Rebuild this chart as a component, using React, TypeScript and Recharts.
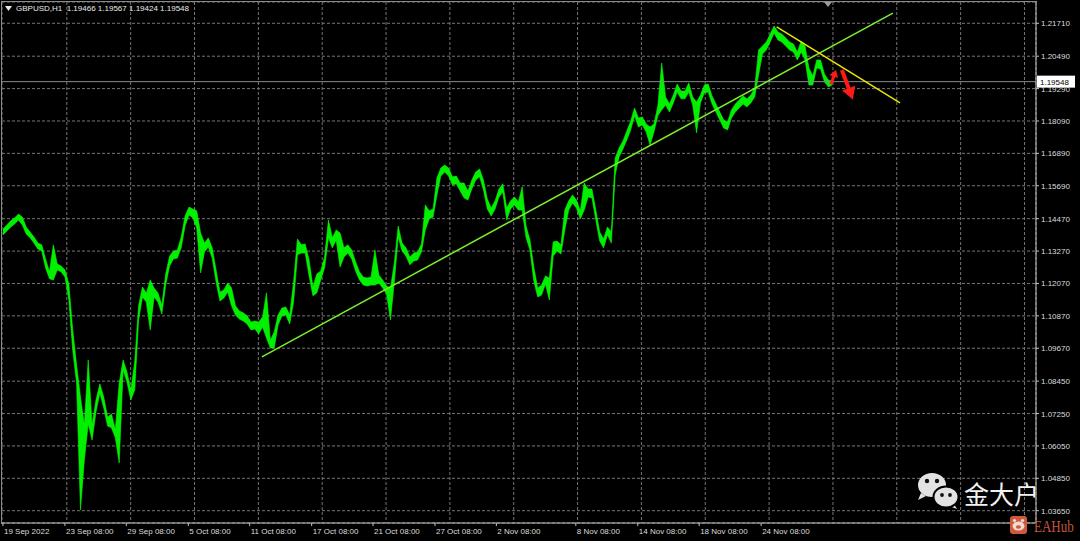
import React from 'react';
import { ComposedChart, Area, XAxis, YAxis, CartesianGrid, ReferenceLine } from 'recharts';

// ---- data (GBPUSD H1, sampled every 6 hourly bars: high / low of each block) ----
const STEP_HOURS = 6;

const HIGHS = [
  1.1409, 1.1424, 1.1439, 1.1450, 1.1464, 1.1453, 1.1416, 1.1398, 1.1379, 1.1357,
  1.1350, 1.1298, 1.1250, 1.1350, 1.1279, 1.1272, 1.1257, 1.1205, 1.1035, 1.0905,
  1.0786, 1.0683, 1.0923, 1.0683, 1.0775, 1.0835, 1.0786, 1.0712, 1.0723, 1.0664,
  1.0838, 1.0923, 1.0879, 1.0812, 1.0916, 1.1124, 1.1194, 1.1172, 1.1220, 1.1190,
  1.1172, 1.1127, 1.1242, 1.1309, 1.1327, 1.1331, 1.1379, 1.1457, 1.1490, 1.1483,
  1.1476, 1.1394, 1.1357, 1.1376, 1.1339, 1.1257, 1.1175, 1.1183, 1.1209, 1.1190,
  1.1124, 1.1105, 1.1098, 1.1087, 1.1064, 1.1068, 1.1064, 1.1083, 1.1172, 1.0997,
  1.1027, 1.1090, 1.1116, 1.1120, 1.1090, 1.1212, 1.1372, 1.1350, 1.1353, 1.1294,
  1.1194, 1.1242, 1.1253, 1.1305, 1.1442, 1.1376, 1.1405, 1.1394, 1.1339, 1.1350,
  1.1331, 1.1287, 1.1250, 1.1231, 1.1227, 1.1231, 1.1331, 1.1238, 1.1220, 1.1198,
  1.1190, 1.1283, 1.1420, 1.1357, 1.1339, 1.1305, 1.1320, 1.1324, 1.1353, 1.1498,
  1.1476, 1.1483, 1.1598, 1.1635, 1.1646, 1.1635, 1.1602, 1.1605, 1.1579, 1.1579,
  1.1550, 1.1590, 1.1620, 1.1631, 1.1590, 1.1520, 1.1487, 1.1513, 1.1557, 1.1576,
  1.1487, 1.1513, 1.1527, 1.1509, 1.1565, 1.1420, 1.1368, 1.1268, 1.1190, 1.1201,
  1.1235, 1.1227, 1.1361, 1.1364, 1.1350, 1.1479, 1.1513, 1.1535, 1.1516, 1.1476,
  1.1579, 1.1557, 1.1557, 1.1479, 1.1398, 1.1372, 1.1416, 1.1398, 1.1672, 1.1709,
  1.1735, 1.1772, 1.1809, 1.1857, 1.1820, 1.1824, 1.1798, 1.1787, 1.1798, 1.1865,
  1.2024, 1.1898, 1.1872, 1.1905, 1.1946, 1.1920, 1.1920, 1.1950, 1.1898, 1.1879,
  1.1905, 1.1942, 1.1946, 1.1902, 1.1872, 1.1842, 1.1813, 1.1805, 1.1850, 1.1872,
  1.1887, 1.1902, 1.1891, 1.1905, 1.1931, 1.2072, 1.2087, 1.2102, 1.2131, 1.2161,
  1.2139, 1.2131, 1.2117, 1.2102, 1.2094, 1.2065, 1.2105, 1.2087, 1.2005, 1.1976,
  1.2035, 1.2035, 1.1983, 1.1961, 1.1957,
];

const LOWS = [
  1.1387, 1.1401, 1.1416, 1.1427, 1.1442, 1.1424, 1.1390, 1.1376, 1.1357, 1.1335,
  1.1327, 1.1264, 1.1224, 1.1220, 1.1257, 1.1250, 1.1231, 1.1146, 1.0960, 1.0838,
  1.0368, 1.0553, 1.0686, 1.0627, 1.0731, 1.0801, 1.0746, 1.0679, 1.0672, 1.0635,
  1.0542, 1.0886, 1.0842, 1.0775, 1.0812, 1.1072, 1.1157, 1.1138, 1.1035, 1.1157,
  1.1138, 1.1094, 1.1201, 1.1272, 1.1298, 1.1301, 1.1339, 1.1420, 1.1461, 1.1450,
  1.1413, 1.1246, 1.1324, 1.1342, 1.1301, 1.1212, 1.1142, 1.1153, 1.1175, 1.1124,
  1.1090, 1.1075, 1.1068, 1.1057, 1.1035, 1.1038, 1.1020, 1.1046, 1.1005, 1.0968,
  1.0968, 1.1053, 1.1087, 1.1090, 1.1057, 1.1138, 1.1313, 1.1320, 1.1320, 1.1235,
  1.1161, 1.1172, 1.1220, 1.1264, 1.1376, 1.1339, 1.1368, 1.1268, 1.1305, 1.1320,
  1.1298, 1.1253, 1.1220, 1.1201, 1.1198, 1.1201, 1.1201, 1.1209, 1.1190, 1.1168,
  1.1072, 1.1212, 1.1379, 1.1327, 1.1309, 1.1276, 1.1290, 1.1294, 1.1324, 1.1405,
  1.1446, 1.1453, 1.1535, 1.1605, 1.1620, 1.1605, 1.1572, 1.1576, 1.1550, 1.1524,
  1.1516, 1.1557, 1.1590, 1.1602, 1.1553, 1.1483, 1.1457, 1.1483, 1.1527, 1.1546,
  1.1442, 1.1483, 1.1498, 1.1479, 1.1479, 1.1376, 1.1331, 1.1216, 1.1157, 1.1164,
  1.1205, 1.1146, 1.1309, 1.1327, 1.1316, 1.1405, 1.1479, 1.1505, 1.1487, 1.1446,
  1.1479, 1.1527, 1.1524, 1.1442, 1.1364, 1.1339, 1.1387, 1.1357, 1.1609, 1.1676,
  1.1705, 1.1739, 1.1776, 1.1828, 1.1787, 1.1794, 1.1768, 1.1720, 1.1768, 1.1828,
  1.1850, 1.1868, 1.1842, 1.1876, 1.1916, 1.1891, 1.1891, 1.1916, 1.1868, 1.1765,
  1.1876, 1.1913, 1.1916, 1.1872, 1.1842, 1.1813, 1.1783, 1.1776, 1.1820, 1.1842,
  1.1857, 1.1872, 1.1861, 1.1876, 1.1898, 1.1979, 1.2057, 1.2072, 1.2102, 1.2135,
  1.2109, 1.2102, 1.2087, 1.2072, 1.2065, 1.2035, 1.2065, 1.2035, 1.1942, 1.1942,
  1.2005, 1.2002, 1.1954, 1.1935, 1.1942,
];

const LAST_BAR = { open: 1.19466, high: 1.19567, low: 1.19424, close: 1.19548 };
const SYMBOL = 'GBPUSD,H1';

const PRICE_TICKS = [
  1.2171, 1.2049, 1.1929, 1.1809, 1.1689, 1.1569, 1.1447, 1.1327,
  1.1207, 1.1087, 1.0967, 1.0845, 1.0725, 1.0605, 1.0485, 1.0365,
];

// time axis positions are counted in hourly bars from the first bar
const TIME_TICKS = [0, 96, 191, 287, 382, 478, 573, 669, 764, 887, 983, 1078, 1174];
const TIME_LABELS = [
  '19 Sep 2022', '23 Sep 08:00', '29 Sep 08:00', '5 Oct 08:00', '11 Oct 08:00',
  '17 Oct 08:00', '21 Oct 08:00', '27 Oct 08:00', '2 Nov 08:00', '8 Nov 08:00',
  '14 Nov 08:00', '18 Nov 08:00', '24 Nov 08:00',
];

const GRID_STEP_BARS = 49.43;
const GRID_COUNT = 33;

const TREND_UP = [{ x: 401, y: 1.0935 }, { x: 1378, y: 1.2209 }];
const TREND_DOWN = [{ x: 1198, y: 1.2158 }, { x: 1389, y: 1.1876 }];
const ARROW_UP = [{ x: 1282, y: 1.1944 }, { x: 1290, y: 1.1998 }];
const ARROW_DOWN = [{ x: 1299, y: 1.1998 }, { x: 1316, y: 1.1889 }];

const X_DOMAIN: [number, number] = [-1.5, 1599.6];
const Y_DOMAIN: [number, number] = [1.03194, 1.22499];

// ---- styling ----
const W = 1080;
const H = 541;
const AXIS_FONT = '"Liberation Sans", Arial, sans-serif';
const TEXT_COLOR = '#dcdcdc';
const AXIS_COLOR = '#c4c4c4';

const PriceTick = (props: any) => {
  const { x, y, payload } = props;
  return (
    <text x={x} y={y} dy={3} fontSize={8} fill={TEXT_COLOR} fontFamily={AXIS_FONT} textAnchor="start">
      {Number(payload.value).toFixed(5)}
    </text>
  );
};

const TimeTick = (props: any) => {
  const { x, y, index } = props;
  return (
    <text x={x + 1} y={y} dy={6} fontSize={8} fill={TEXT_COLOR} fontFamily={AXIS_FONT} textAnchor="start">
      {TIME_LABELS[index]}
    </text>
  );
};

const PriceBox = (props: any) => {
  const vb = props.viewBox || {};
  const x = (vb.x ?? 0) + (vb.width ?? 0) + 1;
  const y = vb.y ?? 0;
  return (
    <g>
      <rect x={x} y={y - 6} width={38} height={12} fill="#ffffff" />
      <text x={x + 3} y={y + 3} fontSize={8} fill="#000" fontFamily={AXIS_FONT}>
        {LAST_BAR.close.toFixed(5)}
      </text>
    </g>
  );
};

const makeArrow = (shaft: number, headLen: number, headHalf: number, color: string) => (p: any) => {
  const { x1, y1, x2, y2 } = p;
  const dx = x2 - x1;
  const dy = y2 - y1;
  const len = Math.hypot(dx, dy) || 1;
  const ux = dx / len;
  const uy = dy / len;
  const nx = -uy;
  const ny = ux;
  const bx = x2 - ux * headLen;
  const by = y2 - uy * headLen;
  const pts = [
    [x1 + (nx * shaft) / 2, y1 + (ny * shaft) / 2],
    [bx + (nx * shaft) / 2, by + (ny * shaft) / 2],
    [bx + nx * headHalf, by + ny * headHalf],
    [x2, y2],
    [bx - nx * headHalf, by - ny * headHalf],
    [bx - (nx * shaft) / 2, by - (ny * shaft) / 2],
    [x1 - (nx * shaft) / 2, y1 - (ny * shaft) / 2],
  ];
  return <polygon points={pts.map((q) => q.join(',')).join(' ')} fill={color} />;
};

const WeChatIcon = () => (
  <svg width={46} height={40} style={{ position: 'absolute', left: 915, top: 471 }}>
    <path d="M6 22 L3 29 L11 25 Z" fill="#e2e2e2" />
    <ellipse cx={17} cy={14} rx={14} ry={12} fill="#e2e2e2" />
    <circle cx={12} cy={10} r={2.2} fill="#111" />
    <circle cx={22} cy={10} r={2.2} fill="#111" />
    <path d="M39 33 L42 38 L34 35 Z" fill="#e2e2e2" />
    <ellipse cx={31} cy={26} rx={12.5} ry={10.5} fill="#e2e2e2" stroke="#000" strokeWidth={2} />
    <circle cx={27} cy={24} r={1.9} fill="#111" />
    <circle cx={35} cy={24} r={1.9} fill="#111" />
  </svg>
);

const EAHubBadge = () => (
  <svg width={70} height={24} style={{ position: 'absolute', left: 1008, top: 513 }}>
    <rect x={2} y={3} width={17} height={18} rx={3} fill="#cf5a3b" />
    <ellipse cx={10.5} cy={13} rx={6} ry={4.5} fill="#f3d9d0" />
    <circle cx={6.5} cy={7.5} r={1.6} fill="#f3d9d0" />
    <circle cx={14.5} cy={7.5} r={1.6} fill="#f3d9d0" />
    <ellipse cx={10.5} cy={14} rx={2.6} ry={1.8} fill="#cf5a3b" />
    <text
      transform="translate(26,19) scale(1,1.3)"
      fontSize={13}
      fill="#c4553c"
      fontFamily='"Liberation Serif", "DejaVu Serif", serif'
    >
      EAHub
    </text>
  </svg>
);

export default function App() {
  const data = HIGHS.map((h, i) => ({ t: i * STEP_HOURS, range: [LOWS[i], h] }));
  const gridTimes = Array.from({ length: GRID_COUNT }, (_, k) => k * GRID_STEP_BARS);
  const header = `${SYMBOL}  ${LAST_BAR.open.toFixed(5)} ${LAST_BAR.high.toFixed(5)} ${LAST_BAR.low.toFixed(5)} ${LAST_BAR.close.toFixed(5)}`;

  return (
    <div
      style={{
        position: 'absolute',
        left: 0,
        top: 0,
        width: W,
        height: H,
        background: '#000',
        overflow: 'hidden',
        fontFamily: AXIS_FONT,
      }}
    >
      <ComposedChart width={W} height={H} data={data} margin={{ top: 2, right: 0, bottom: 0, left: 2 }}>
        <XAxis xAxisId="grid" dataKey="t" type="number" domain={X_DOMAIN} ticks={gridTimes} allowDataOverflow hide />
        <XAxis
          dataKey="t"
          type="number"
          domain={X_DOMAIN}
          ticks={TIME_TICKS}
          allowDataOverflow
          height={18}
          axisLine={{ stroke: AXIS_COLOR }}
          tickLine={{ stroke: AXIS_COLOR }}
          tickSize={3}
          tickMargin={2}
          interval={0}
          tick={TimeTick}
        />
        <YAxis
          yAxisId="p"
          orientation="right"
          type="number"
          domain={Y_DOMAIN}
          ticks={PRICE_TICKS}
          allowDataOverflow
          width={44}
          axisLine={{ stroke: AXIS_COLOR }}
          tickLine={{ stroke: AXIS_COLOR }}
          tickSize={3}
          tickMargin={2}
          interval={0}
          tick={PriceTick}
        />
        <CartesianGrid xAxisId="grid" yAxisId="p" stroke="#767676" strokeDasharray="3 2" />
        <ReferenceLine yAxisId="p" y={LAST_BAR.close} stroke="#8a8a8a" strokeWidth={1} label={PriceBox} />
        <Area
          yAxisId="p"
          dataKey="range"
          type="linear"
          stroke="#00ff00"
          strokeWidth={0.6}
          fill="#00f000"
          fillOpacity={1}
          isAnimationActive={false}
          dot={false}
          activeDot={false}
        />
        <ReferenceLine yAxisId="p" segment={TREND_UP} stroke="#7cf02a" strokeWidth={1.5} />
        <ReferenceLine yAxisId="p" segment={TREND_DOWN} stroke="#e8e800" strokeWidth={1.5} />
        <ReferenceLine yAxisId="p" segment={ARROW_UP} shape={makeArrow(3, 7, 4.5, '#ff1a1a')} />
        <ReferenceLine yAxisId="p" segment={ARROW_DOWN} shape={makeArrow(4, 12, 7, '#ff1a1a')} />
      </ComposedChart>

      {/* plot frame */}
      <div
        style={{
          position: 'absolute',
          left: 1,
          top: 1,
          width: 1035,
          height: 522,
          borderTop: '1px solid #8c8c8c',
          borderLeft: '1px solid #8c8c8c',
          pointerEvents: 'none',
        }}
      />

      {/* header */}
      <svg width={8} height={6} style={{ position: 'absolute', left: 5, top: 6 }}>
        <polygon points="0,0 7,0 3.5,5" fill="#e8e8e8" />
      </svg>
      <div
        style={{
          position: 'absolute',
          left: 16,
          top: 3,
          fontSize: 8,
          lineHeight: '12px',
          color: '#ececec',
          whiteSpace: 'pre',
        }}
      >
        {header}
      </div>

      {/* chart shift marker */}
      <svg width={10} height={6} style={{ position: 'absolute', left: 824, top: 2 }}>
        <polygon points="0,0 8,0 4,5" fill="#9a9a9a" />
      </svg>

      <WeChatIcon />
      <div
        style={{
          position: 'absolute',
          left: 964,
          top: 477,
          fontSize: 25,
          lineHeight: '32px',
          color: '#f2f2f2',
          fontFamily: '"Noto Sans CJK SC", sans-serif',
          whiteSpace: 'nowrap',
        }}
      >
        金大户
      </div>
      <EAHubBadge />
    </div>
  );
}
